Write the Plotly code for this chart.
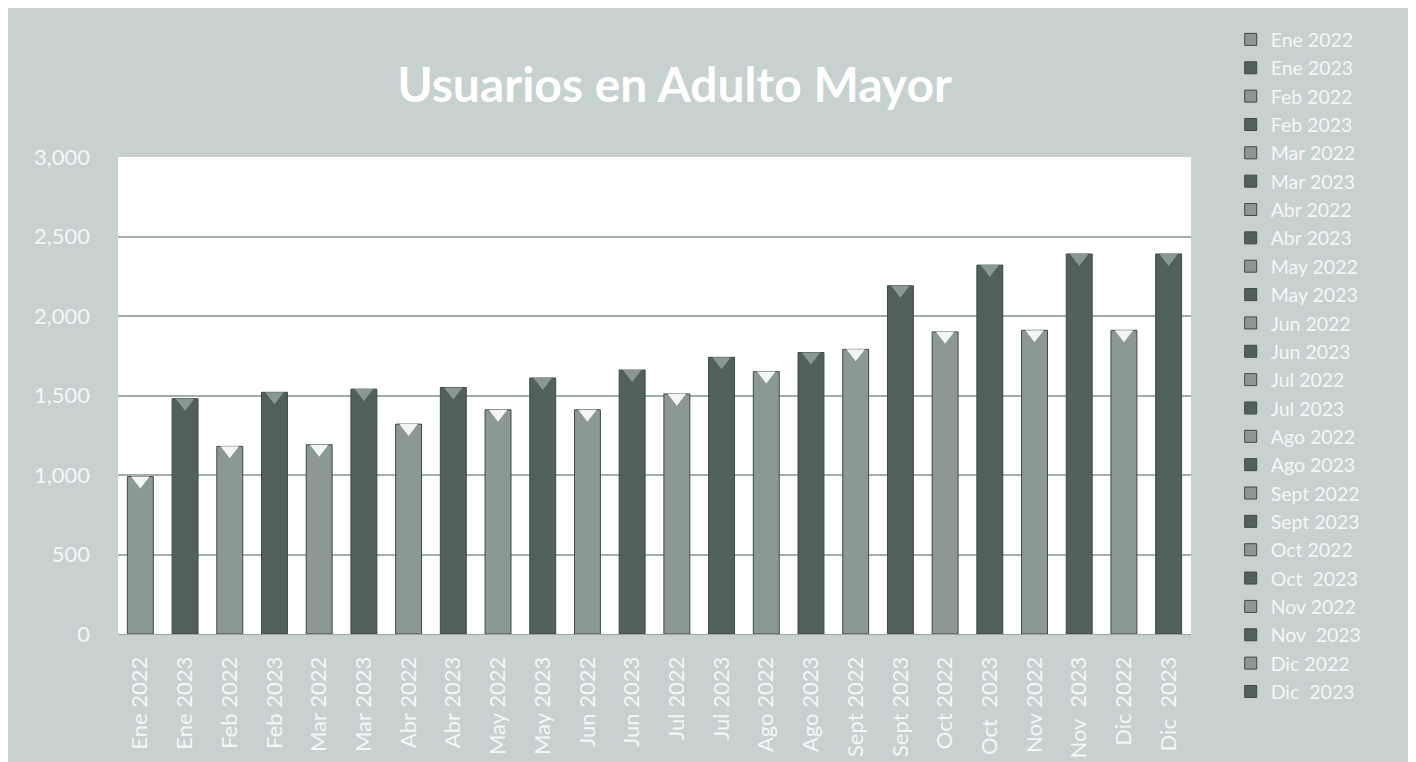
import plotly.graph_objects as go

# categories in chart order (2022 / 2023 alternate)
labels_2022 = ["Ene 2022", "Feb 2022", "Mar 2022", "Abr 2022", "May 2022", "Jun 2022",
               "Jul 2022", "Ago 2022", "Sept 2022", "Oct 2022", "Nov 2022", "Dic 2022"]
labels_2023 = ["Ene 2023", "Feb 2023", "Mar 2023", "Abr 2023", "May 2023", "Jun 2023",
               "Jul 2023", "Ago 2023", "Sept 2023", "Oct  2023", "Nov  2023", "Dic  2023"]

usuarios_2022 = [990, 1180, 1190, 1320, 1410, 1410, 1510, 1650, 1790, 1900, 1910, 1910]
usuarios_2023 = [1480, 1520, 1540, 1550, 1610, 1660, 1740, 1770, 2190, 2320, 2390, 2390]

BG = "#c7d1d0"
LIGHT = "#8b9894"
DARK = "#52605b"
FONT = "Lato"
TXT = "#f4f7f7"
Y_MAX = 3000
PLOT_H = 483  # px height of plot area
BEVEL_SHIFT = 4 * Y_MAX / PLOT_H  # pull bevel marker 4px below bar top

all_labels = [l for pair in zip(labels_2022, labels_2023) for l in pair]
all_values = [v for pair in zip(usuarios_2022, usuarios_2023) for v in pair]

fig = go.Figure()
for lab22, v22, lab23, v23 in zip(labels_2022, usuarios_2022, labels_2023, usuarios_2023):
    for lab, v, col in ((lab22, v22, LIGHT), (lab23, v23, DARK)):
        fig.add_trace(go.Bar(
            x=[lab], y=[v], name=lab,
            marker=dict(color=col, line=dict(color="#3e4946", width=1)),
            width=0.58,
        ))

# small bevel highlights at the top of each bar (Excel 3D look)
bevel_cols = ["rgba(255,255,255,0.9)" if i % 2 == 0 else "rgba(140,155,150,0.95)"
              for i in range(len(all_labels))]
fig.add_trace(go.Scatter(
    x=all_labels, y=[v - BEVEL_SHIFT for v in all_values],
    mode="markers", showlegend=False, hoverinfo="skip",
    marker=dict(symbol="triangle-down", size=16, color=bevel_cols, line=dict(width=0)),
))

fig.update_layout(
    width=1416, height=762,
    paper_bgcolor=BG, plot_bgcolor="white",
    barmode="relative",
    margin=dict(l=110, r=233, t=143, b=136),
    title=dict(text="<b>Usuarios en Adulto Mayor</b>", x=0.4707, xanchor="center",
               y=0.899, yanchor="middle",
               font=dict(family=FONT, size=48, color="white")),
    font=dict(family=FONT, color=TXT),
    showlegend=True,
    legend=dict(x=1.037, xanchor="left", y=1.2867, yanchor="top",
                font=dict(family=FONT, size=19.5, color=TXT),
                bgcolor="rgba(0,0,0,0)", tracegroupgap=0,
                itemwidth=30, maxheight=1000),
)
fig.update_xaxes(
    type="category", categoryorder="array", categoryarray=all_labels,
    range=[-0.5, len(all_labels) - 0.5],
    tickangle=-90, tickfont=dict(size=22, color=TXT),
    showline=True, linecolor="#9aa6a3", linewidth=1, ticks="",
    ticklabelstandoff=13,
)
fig.update_yaxes(
    range=[0, Y_MAX], dtick=500, tickformat=",",
    tickfont=dict(size=22, color=TXT),
    showgrid=True, gridcolor="#9fb0ab", gridwidth=1.5,
    zeroline=False, ticklabelstandoff=27,
)

fig.write_html("out.html")
